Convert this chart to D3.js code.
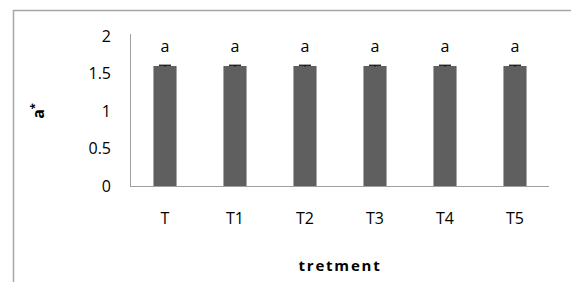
<!DOCTYPE html>
<html>
<head>
<meta charset="utf-8">
<script src="https://cdn.jsdelivr.net/npm/d3@7"></script>
<style>
  body { margin: 0; background: #fff; }
  text { font-family: "Open Sans", sans-serif; fill: #000; }
</style>
</head>
<body>
<script>
// data
var treatments = ["T", "T1", "T2", "T3", "T4", "T5"];
var values = [1.6, 1.6, 1.6, 1.6, 1.6, 1.6];
var errors = [0.01, 0.01, 0.01, 0.01, 0.01, 0.01];
var letters = ["a", "a", "a", "a", "a", "a"];
var yTicks = [0, 0.5, 1, 1.5, 2];

var w = 571, h = 282;
var svg = d3.select("body").append("svg")
    .attr("width", w).attr("height", h);

// outer chart border (runs off the right and bottom)
svg.append("rect")
    .attr("x", 13.5).attr("y", 10.5)
    .attr("width", 600).attr("height", 300)
    .attr("fill", "none").attr("stroke", "#a6a6a6").attr("stroke-width", 1.5);

var x = d3.scaleBand().domain(treatments).range([130, 550]).paddingInner(0.67).paddingOuter(0.335);
var y = d3.scaleLinear().domain([0, 2]).range([186, 36]);

// axis lines
svg.append("line").attr("x1", 130.5).attr("x2", 130.5).attr("y1", 34).attr("y2", 186)
    .attr("stroke", "#a0a0a0");
svg.append("line").attr("x1", 130).attr("x2", 549).attr("y1", 186.5).attr("y2", 186.5)
    .attr("stroke", "#a0a0a0");

// y tick labels
svg.selectAll(".ytick").data(yTicks).enter().append("text")
    .attr("class", "ytick")
    .attr("x", 111).attr("y", function(d){ return y(d); })
    .attr("dy", "0.35em").attr("text-anchor", "end")
    .style("font-size", "16px")
    .text(function(d){ return d; });

// bars
svg.selectAll(".bar").data(values).enter().append("rect")
    .attr("class", "bar")
    .attr("x", function(d, i){ return x(treatments[i]); })
    .attr("width", x.bandwidth())
    .attr("y", function(d){ return y(d); })
    .attr("height", function(d){ return y(0) - y(d); })
    .attr("fill", "#5f5f5f");

// error bars
svg.selectAll(".err").data(values).enter().append("g").each(function(d, i){
    var g = d3.select(this);
    var cx = x(treatments[i]) + x.bandwidth() / 2;
    var top = y(d + errors[i]), bot = y(d - errors[i]);
    g.append("line").attr("x1", cx).attr("x2", cx).attr("y1", top).attr("y2", bot)
        .attr("stroke", "#000").attr("stroke-width", 1);
    g.append("line").attr("x1", cx - 6).attr("x2", cx + 6).attr("y1", top).attr("y2", top)
        .attr("stroke", "#000").attr("stroke-width", 1.2);
});

// significance letters
svg.selectAll(".letter").data(letters).enter().append("text")
    .attr("class", "letter")
    .attr("x", function(d, i){ return x(treatments[i]) + x.bandwidth() / 2; })
    .attr("y", 46).attr("dy", "0.35em").attr("text-anchor", "middle")
    .style("font-size", "16px")
    .text(function(d){ return d; });

// x tick labels
svg.selectAll(".xtick").data(treatments).enter().append("text")
    .attr("class", "xtick")
    .attr("x", function(d){ return x(d) + x.bandwidth() / 2; })
    .attr("y", 218).attr("dy", "0.35em").attr("text-anchor", "middle")
    .style("font-size", "16px")
    .text(function(d){ return d; });

// axis titles
svg.append("text")
    .attr("x", 340).attr("y", 266).attr("dy", "0.35em").attr("text-anchor", "middle")
    .style("font-size", "15px").style("font-weight", "bold").style("letter-spacing", "1.8px")
    .text("tretment");

var yt = svg.append("text")
    .attr("transform", "translate(38,111) rotate(-90)")
    .attr("text-anchor", "middle").attr("dy", "0.35em")
    .style("font-size", "16px").style("font-weight", "bold");
yt.append("tspan").text("a");
yt.append("tspan").attr("dy", "-0.5em").style("font-size", "11px").text("*");
</script>
</body>
</html>
